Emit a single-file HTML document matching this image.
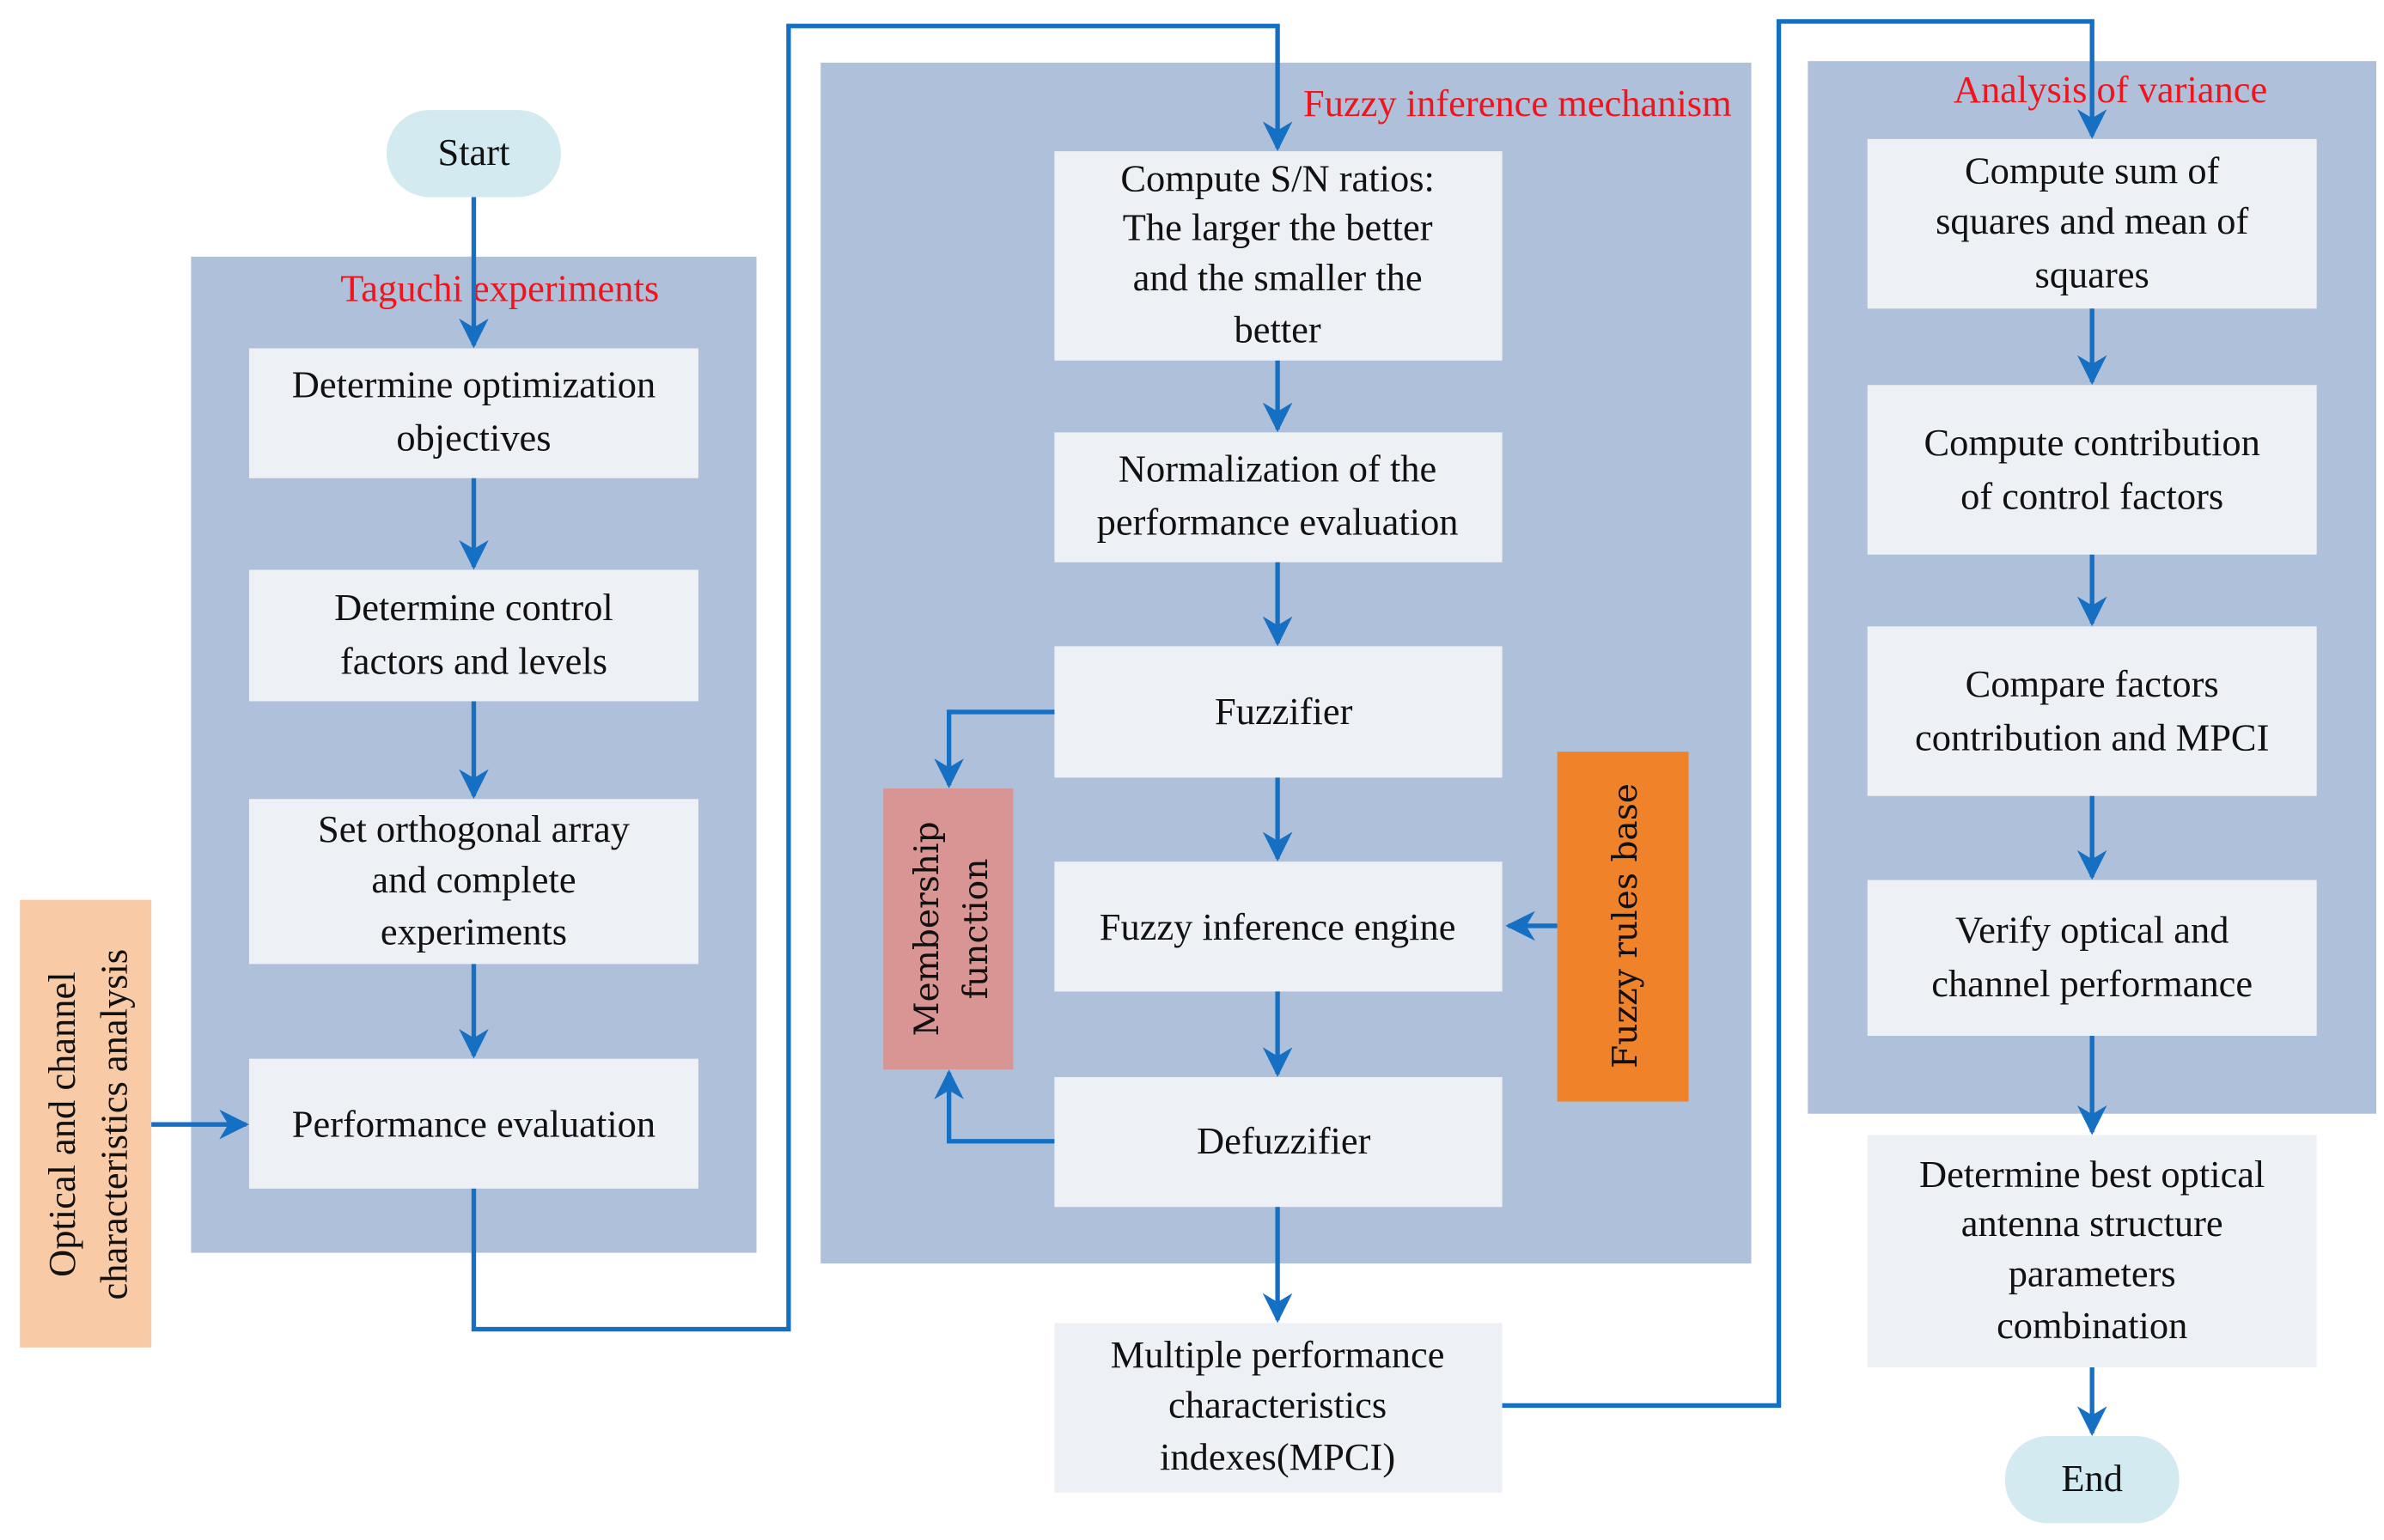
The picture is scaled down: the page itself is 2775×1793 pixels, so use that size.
<!DOCTYPE html>
<html><head><meta charset="utf-8"><style>
html,body{margin:0;padding:0;background:#fff;}
svg{display:block;}
svg text{font-family:"Liberation Serif","Times New Roman",Times,"DejaVu Serif",serif;font-size:25px;fill:#111;text-anchor:middle;}
svg text.r{fill:#f0141c;font-size:25px;}
svg text.w{font-family:"DejaVu Serif","Liberation Serif",serif;font-size:22px;}
</style></head><body>
<svg width="2775" height="1793" viewBox="0 0 1560 1008" xmlns="http://www.w3.org/2000/svg" font-family="Liberation Serif, serif">
<defs>
<marker id="a" viewBox="0 0 10 10" refX="9" refY="5" markerWidth="6.5" markerHeight="6.5" markerUnits="strokeWidth" orient="auto">
<path d="M0,0 L10,5 L0,10 L3,5 z" fill="#1570c4"/></marker>
</defs>
<rect x="125" y="168" width="370" height="652" fill="#afc1da"/>
<rect x="537" y="41" width="609" height="786" fill="#afc1da"/>
<rect x="1183" y="40" width="372" height="689" fill="#afc1da"/>
<text class="r" x="327" y="197">Taguchi experiments</text>
<text class="r" x="993" y="76">Fuzzy inference mechanism</text>
<text class="r" x="1381" y="67">Analysis of variance</text>
<rect x="253" y="72" width="114" height="57" rx="28" fill="#d3eaf0"/>
<text x="310" y="108">Start</text>
<rect x="1312" y="940" width="114" height="57" rx="28" fill="#d3eaf0"/>
<text x="1369" y="976">End</text>
<g fill="#edf0f5">
<rect x="163" y="228" width="294" height="85"/>
<rect x="163" y="373" width="294" height="86"/>
<rect x="163" y="523" width="294" height="108"/>
<rect x="163" y="693" width="294" height="85"/>
<rect x="690" y="99" width="293" height="137"/>
<rect x="690" y="283" width="293" height="85"/>
<rect x="690" y="423" width="293" height="86"/>
<rect x="690" y="564" width="293" height="85"/>
<rect x="690" y="705" width="293" height="85"/>
<rect x="690" y="866" width="293" height="111"/>
<rect x="1222" y="91" width="294" height="111"/>
<rect x="1222" y="252" width="294" height="111"/>
<rect x="1222" y="410" width="294" height="111"/>
<rect x="1222" y="576" width="294" height="102"/>
<rect x="1222" y="743" width="294" height="152"/>
</g>
<rect x="13" y="589" width="86" height="293" fill="#f8cba6"/>
<rect x="578" y="516" width="85" height="184" fill="#d99594"/>
<rect x="1019" y="492" width="86" height="229" fill="#f0822a"/>
<text x="310" y="260">Determine optimization</text><text x="310" y="295">objectives</text>
<text x="310" y="406">Determine control</text><text x="310" y="441">factors and levels</text>
<text x="310" y="551">Set orthogonal array</text><text x="310" y="584">and complete</text><text x="310" y="618">experiments</text>
<text x="310" y="744">Performance evaluation</text>
<text x="836" y="125">Compute S/N ratios:</text><text x="836" y="157">The larger the better</text><text x="836" y="190">and the smaller the</text><text x="836" y="224">better</text>
<text x="836" y="315">Normalization of the</text><text x="836" y="350">performance evaluation</text>
<text x="840" y="474">Fuzzifier</text>
<text x="836" y="615">Fuzzy inference engine</text>
<text x="840" y="755">Defuzzifier</text>
<text x="836" y="895">Multiple performance</text><text x="836" y="928">characteristics</text><text x="836" y="962">indexes(MPCI)</text>
<text x="1369" y="120">Compute sum of</text><text x="1369" y="153">squares and mean of</text><text x="1369" y="188">squares</text>
<text x="1369" y="298">Compute contribution</text><text x="1369" y="333">of control factors</text>
<text x="1369" y="456">Compare factors</text><text x="1369" y="491">contribution and MPCI</text>
<text x="1369" y="617">Verify optical and</text><text x="1369" y="652">channel performance</text>
<text x="1369" y="777">Determine best optical</text><text x="1369" y="809">antenna structure</text><text x="1369" y="842">parameters</text><text x="1369" y="876">combination</text>
<g transform="translate(56,736) rotate(-90)"><text x="0" y="-7">Optical and channel</text><text x="0" y="27">characteristics analysis</text></g>
<g transform="translate(620,608) rotate(-90)"><text class="w" x="0" y="-6">Membership</text><text class="w" x="0" y="26">function</text></g>
<g transform="translate(1062,606) rotate(-90)"><text class="w" x="0" y="9">Fuzzy rules base</text></g>
<g stroke="#1570c4" stroke-width="3" fill="none" marker-end="url(#a)">
<path d="M310,129 V226"/>
<path d="M310,313 V371"/>
<path d="M310,459 V521"/>
<path d="M310,631 V691"/>
<path d="M99,736 H161"/>
<path d="M310,778 V870 H516 V17 H836 V97"/>
<path d="M836,236 V281"/>
<path d="M836,368 V421"/>
<path d="M836,509 V562"/>
<path d="M836,649 V703"/>
<path d="M836,790 V864"/>
<path d="M690,466 H621 V514"/>
<path d="M690,747 H621 V702"/>
<path d="M1019,606 H987"/>
<path d="M983,920 H1164 V14 H1369 V89"/>
<path d="M1369,202 V250"/>
<path d="M1369,363 V408"/>
<path d="M1369,521 V574"/>
<path d="M1369,678 V741"/>
<path d="M1369,895 V938"/>
</g>
</svg>
</body></html>
